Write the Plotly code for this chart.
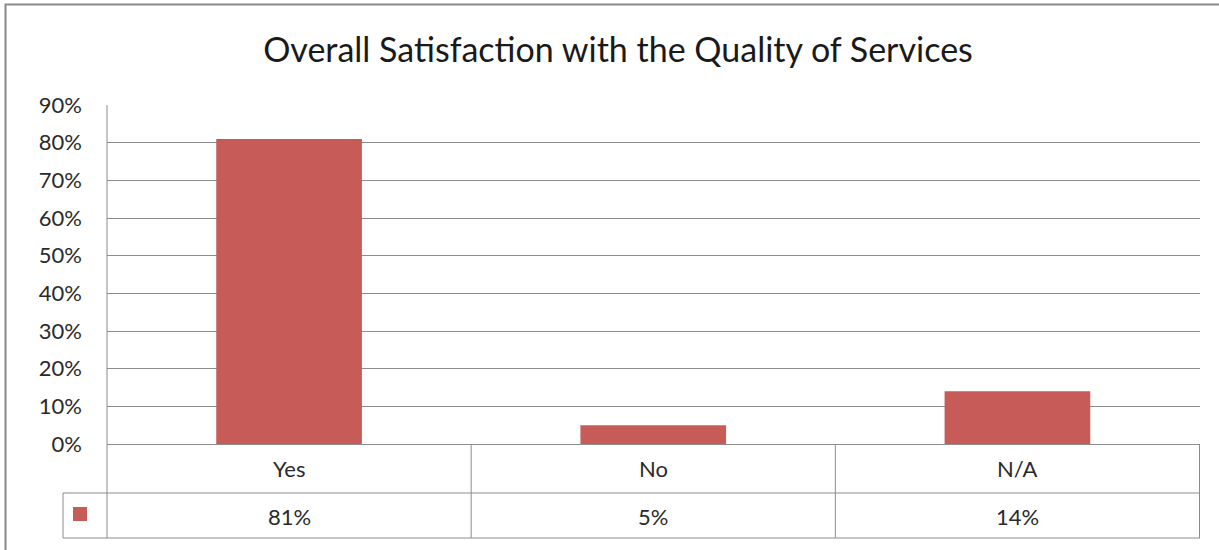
import plotly.graph_objects as go

# Survey results
categories = ["Yes", "No", "N/A"]
shares = [0.81, 0.05, 0.14]
share_labels = ["81%", "5%", "14%"]
tick_values = [0, 0.1, 0.2, 0.3, 0.4, 0.5, 0.6, 0.7, 0.8, 0.9]
tick_labels = ["0%", "10%", "20%", "30%", "40%", "50%", "60%", "70%", "80%", "90%"]

W, H = 1219, 550
PLOT_L, PLOT_R, PLOT_T, PLOT_B = 107, 1200, 105, 444
BAR_COLOR = "#C65B58"
LINE_COLOR = "#8C8C8C"
FONT = "Lato"
TEXT_COLOR = "#2a2a2a"


def px_x(px):
    """Horizontal pixel -> paper coordinate."""
    return (px - PLOT_L) / (PLOT_R - PLOT_L)


def px_y(py):
    """Vertical pixel -> paper coordinate."""
    return (PLOT_B - py) / (PLOT_B - PLOT_T)


ROW1_BOTTOM = px_y(493)
ROW2_BOTTOM = px_y(538)
KEY_LEFT = px_x(63)

fig = go.Figure(
    go.Bar(
        x=categories,
        y=shares,
        marker=dict(color=BAR_COLOR, line=dict(width=0)),
        hoverinfo="skip",
    )
)

line = dict(color=LINE_COLOR, width=1)
shapes = []
# value axis line, continued down through the data table
shapes.append(dict(type="line", xref="paper", yref="paper", x0=0, x1=0,
                   y0=1, y1=ROW2_BOTTOM, line=line))
# data table horizontal rules
for yy in (ROW1_BOTTOM, ROW2_BOTTOM):
    shapes.append(dict(type="line", xref="paper", yref="paper", x0=KEY_LEFT, x1=1,
                       y0=yy, y1=yy, line=line))
# legend-key cell left edge
shapes.append(dict(type="line", xref="paper", yref="paper", x0=KEY_LEFT, x1=KEY_LEFT,
                   y0=ROW1_BOTTOM, y1=ROW2_BOTTOM, line=line))
# category cell boundaries
for i in range(1, len(categories) + 1):
    xb = i - 0.5
    shapes.append(dict(type="line", xref="x", yref="paper", x0=xb, x1=xb,
                       y0=0, y1=ROW2_BOTTOM, line=line))
# legend key
shapes.append(dict(type="rect", xref="paper", yref="paper",
                   x0=px_x(73), x1=px_x(87), y0=px_y(521), y1=px_y(507),
                   fillcolor=BAR_COLOR, line=dict(width=0)))
# chart frame
shapes.append(dict(type="rect", xref="paper", yref="paper",
                   x0=px_x(5.5), x1=px_x(W + 10), y0=px_y(H + 10), y1=px_y(4.5),
                   line=dict(color="#8A8A8A", width=2), layer="below"))

annotations = []
row1_mid = px_y(468)
row2_mid = px_y(516)
for cat, lab in zip(categories, share_labels):
    annotations.append(dict(x=cat, y=row1_mid, xref="x", yref="paper", text=cat,
                            showarrow=False, xanchor="center", yanchor="middle",
                            font=dict(family=FONT, size=22, color=TEXT_COLOR)))
    annotations.append(dict(x=cat, y=row2_mid, xref="x", yref="paper", text=lab,
                            showarrow=False, xanchor="center", yanchor="middle",
                            font=dict(family=FONT, size=22, color=TEXT_COLOR)))

fig.update_layout(
    width=W,
    height=H,
    margin=dict(l=PLOT_L, r=W - PLOT_R, t=PLOT_T, b=H - PLOT_B),
    paper_bgcolor="white",
    plot_bgcolor="white",
    showlegend=False,
    bargap=0.6,
    title=dict(
        text="Overall Satisfaction with the Quality of Services",
        x=618 / W, xref="container", xanchor="center",
        y=1 - 50 / H, yref="container", yanchor="middle",
        font=dict(family=FONT, size=34, color="#1a1a1a"),
    ),
    xaxis=dict(showticklabels=False, showgrid=False, zeroline=False,
               showline=False, ticks="", fixedrange=True),
    yaxis=dict(range=[0, 0.9], tickvals=tick_values, ticktext=tick_labels,
               showgrid=True, gridcolor=LINE_COLOR, gridwidth=1,
               zeroline=True, zerolinecolor=LINE_COLOR, zerolinewidth=1,
               showline=False, ticks="", ticklabelstandoff=24,
               tickfont=dict(family=FONT, size=22, color=TEXT_COLOR),
               fixedrange=True),
    shapes=shapes,
    annotations=annotations,
)

fig.write_html("out.html")
